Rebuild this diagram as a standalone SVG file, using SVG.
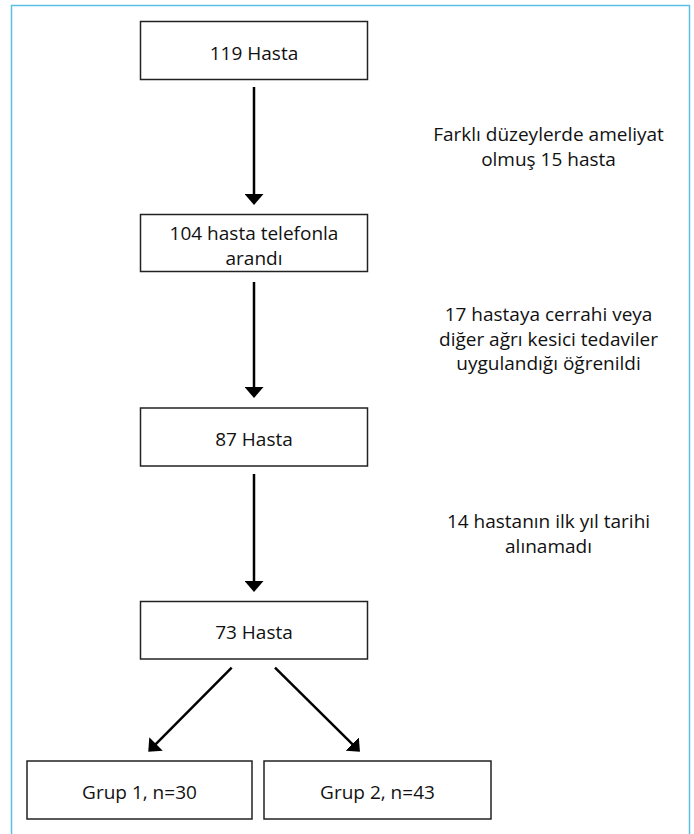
<svg xmlns="http://www.w3.org/2000/svg" width="694" height="834" viewBox="0 0 694 834">
  <style>
    .box { fill: #ffffff; stroke: #222222; stroke-width: 1.5; }
    .t { font-family: "Open Sans", Lato, "Liberation Sans", sans-serif; font-size: 19px; fill: #111111; text-anchor: middle; }
    .conn { stroke: #000000; stroke-width: 2.5; fill: none; marker-end: url(#arrow); }
    .frame { fill: none; stroke: #5bbfe3; stroke-width: 1.5; }
  </style>
  <defs>
    <marker id="arrow" viewBox="0 0 11 19" refX="6" refY="9.5" markerWidth="11" markerHeight="19" markerUnits="userSpaceOnUse" orient="auto">
      <path d="M0,0 L11,9.5 L0,19 z" fill="#000000"/>
    </marker>
  </defs>
  <rect x="0" y="0" width="694" height="834" fill="#ffffff"/>
  <rect class="frame" x="11.5" y="5.5" width="678" height="840"/>

  <g id="n119">
    <rect class="box" x="140.5" y="21.5" width="227" height="58"/>
    <text class="t" x="254" y="59.5">119 Hasta</text>
  </g>
  <g id="n104">
    <rect class="box" x="140.5" y="214.5" width="227" height="57"/>
    <text class="t" x="254" y="240">104 hasta telefonla</text>
    <text class="t" x="254" y="265">arandı</text>
  </g>
  <g id="n87">
    <rect class="box" x="140.5" y="408" width="227" height="58"/>
    <text class="t" x="254" y="445.5">87 Hasta</text>
  </g>
  <g id="n73">
    <rect class="box" x="140.5" y="601.5" width="227" height="57.5"/>
    <text class="t" x="254" y="639">73 Hasta</text>
  </g>
  <g id="grup1">
    <rect class="box" x="27" y="761" width="225" height="58"/>
    <text class="t" x="139.5" y="798.5">Grup 1, n=30</text>
  </g>
  <g id="grup2">
    <rect class="box" x="264" y="761" width="227" height="58"/>
    <text class="t" x="377.5" y="798.5">Grup 2, n=43</text>
  </g>

  <g id="note1">
    <text class="t" x="548.5" y="141">Farklı düzeylerde ameliyat</text>
    <text class="t" x="548.5" y="165.7">olmuş 15 hasta</text>
  </g>
  <g id="note2">
    <text class="t" x="548.5" y="321">17 hastaya cerrahi veya</text>
    <text class="t" x="548.5" y="345.5">diğer ağrı kesici tedaviler</text>
    <text class="t" x="548.5" y="370">uygulandığı öğrenildi</text>
  </g>
  <g id="note3">
    <text class="t" x="548.5" y="528.3">14 hastanın ilk yıl tarihi</text>
    <text class="t" x="548.5" y="553.3">alınamadı</text>
  </g>

  <g id="connectors">
    <line class="conn" x1="254" y1="87" x2="254" y2="200"/>
    <line class="conn" x1="254" y1="282" x2="254" y2="393"/>
    <line class="conn" x1="254" y1="474" x2="254" y2="587"/>
    <line class="conn" x1="231.7" y1="667.7" x2="151.8" y2="748.2"/>
    <line class="conn" x1="275" y1="667.7" x2="356.4" y2="748.2"/>
  </g>
</svg>
